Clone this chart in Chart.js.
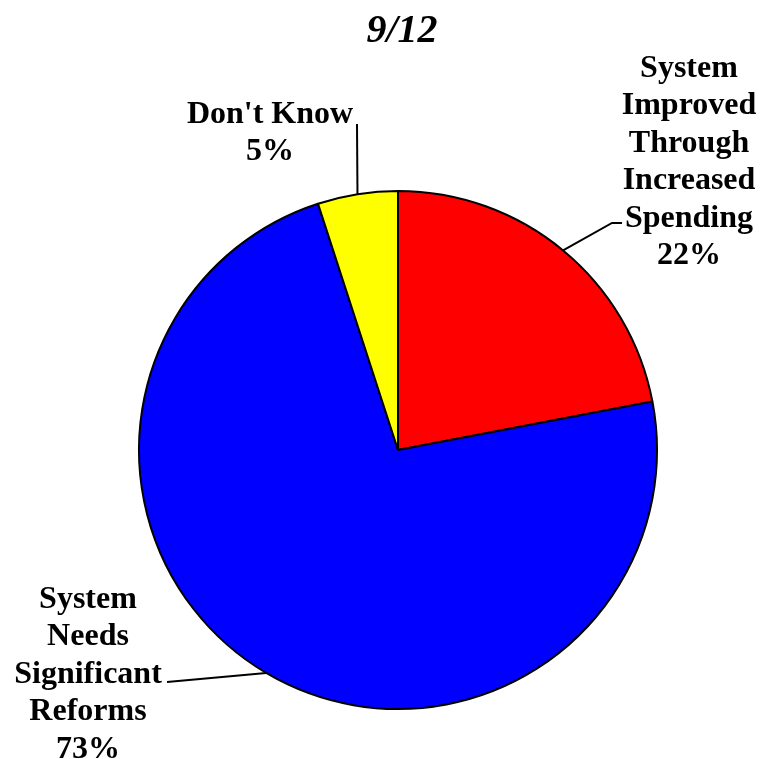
<!DOCTYPE html>
<html>
<head>
<meta charset="utf-8">
<script src="https://cdn.jsdelivr.net/npm/chart.js@4/dist/chart.umd.min.js"></script>
<style>
  html, body { margin: 0; padding: 0; background: #fff; }
  #pie { display: block; }
</style>
</head>
<body>
<canvas id="pie" width="762" height="759"></canvas>
<script>
/* ─── Data ─── */
const TITLE = '9/12';
const labels = [
  ['System', 'Improved', 'Through', 'Increased', 'Spending'],
  ['System', 'Needs', 'Significant', 'Reforms'],
  ["Don't Know"],
];
const values = [22, 73, 5];
const colors = ['#ff0000', '#0000ff', '#ffff00'];

const FONT = "'Liberation Serif', 'Times New Roman', serif";
const LINE_H = 37.4;

/* label placement: text centre x, first baseline y, leader path after the edge point */
const labelLayout = [
  { x: 689, y: 77,  path: [[612, 223], [622, 223]] },
  { x: 88,  y: 608, path: [[167, 682]] },
  { x: 270, y: 123, path: [[357, 124]] },
];

/* ─── Labels + leader lines ─── */
const calloutPlugin = {
  id: 'callouts',
  afterDraw(chart) {
    const c = chart.ctx;
    const arcs = chart.getDatasetMeta(0).data;
    c.save();

    // title
    c.fillStyle = '#000';
    c.font = `italic bold 40px ${FONT}`;
    c.textAlign = 'center';
    c.textBaseline = 'alphabetic';
    c.fillText(TITLE, 402, 42);

    arcs.forEach((arc, i) => {
      const { x, y, startAngle, endAngle, outerRadius } = arc.getProps(
        ['x', 'y', 'startAngle', 'endAngle', 'outerRadius'], true);
      const mid = (startAngle + endAngle) / 2;
      const lay = labelLayout[i];

      // leader
      c.strokeStyle = '#000';
      c.lineWidth = 2;
      c.beginPath();
      c.moveTo(x + Math.cos(mid) * outerRadius, y + Math.sin(mid) * outerRadius);
      lay.path.forEach(([px, py]) => c.lineTo(px, py));
      c.stroke();

      // text
      const lines = [...labels[i], values[i] + '%'];
      c.font = `bold 32px ${FONT}`;
      c.fillStyle = '#000';
      lines.forEach((t, k) => c.fillText(t, lay.x, lay.y + k * LINE_H));
    });
    c.restore();
  },
};

new Chart(document.getElementById('pie'), {
  type: 'pie',
  data: {
    labels: labels.map(l => l.join(' ')),
    datasets: [{
      data: values,
      backgroundColor: colors,
      borderColor: '#000',
      borderWidth: 2,
    }],
  },
  options: {
    responsive: false,
    animation: false,
    layout: { padding: { left: 138, right: 104, top: 190, bottom: 49 } },
    plugins: {
      legend: { display: false },
      tooltip: { enabled: false },
      title: { display: false },
    },
  },
  plugins: [calloutPlugin],
});
</script>
</body>
</html>
